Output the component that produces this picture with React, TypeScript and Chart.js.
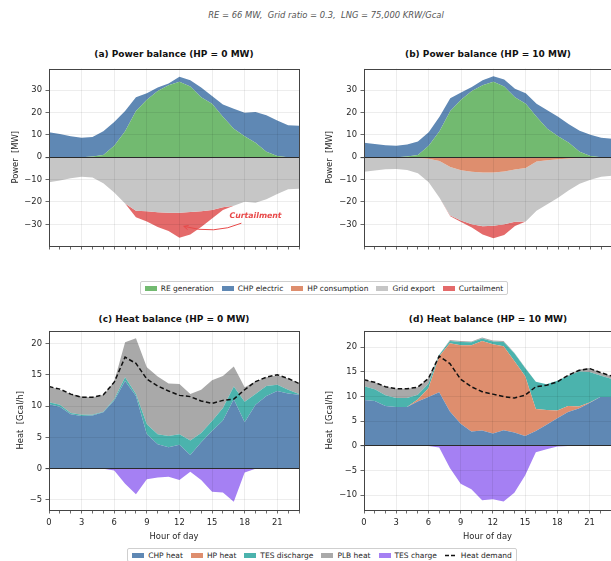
import React, { useEffect, useRef } from 'react';
import { Chart, registerables } from 'chart.js';

Chart.register(...registerables);

const FONT = 'DejaVu Sans';
const TXT = '#262626';
const GRID = 'rgba(0,0,0,0.09)';

// ---------- categories ----------
const HOURS = [0, 1, 2, 3, 4, 5, 6, 7, 8, 9, 10, 11, 12, 13, 14, 15, 16, 17, 18, 19, 20, 21, 22, 23];

// ---------- tick labels ----------
const POWER_TICKS = [-30, -20, -10, 0, 10, 20, 30];
const HEAT_C_TICKS = [-5, 0, 5, 10, 15, 20];
const HEAT_D_TICKS = [-10, -5, 0, 5, 10, 15, 20];

// ---------- (a) power balance, HP = 0 MW ----------
const RE_GEN = [0, 0, 0, 0, 0.3, 1.0, 5.1, 11.6, 20.7, 25.7, 29.7, 32.2, 33.8, 31.7, 26.8, 23.9, 18.1, 12.8, 9.4, 6.5, 2.5, 0.6, 0, 0];
const CHP_EL_A = [11.2, 10.4, 9.4, 8.7, 8.8, 10.6, 10.7, 9.1, 6.1, 3.0, 1.5, 0.8, 2.2, 2.8, 4.4, 3.5, 5.5, 8.9, 10.5, 13.8, 16.3, 15.8, 14.3, 14.1];
const HP_CONS_A = [0, 0, 0, 0, 0, 0, 0, 0, 0, 0, 0, 0, 0, 0, 0, 0, 0, 0, 0, 0, 0, 0, 0, 0];
const EXPORT_A = [-11.2, -10.4, -9.4, -8.7, -9.1, -11.6, -15.8, -20.7, -23.9, -24.2, -24.6, -24.8, -24.8, -24.5, -24.2, -23.6, -22.4, -21.7, -19.9, -20.3, -18.8, -16.4, -14.3, -14.1];
const CURT_A = [0, 0, 0, 0, 0, 0, 0, 0, -2.9, -4.5, -6.6, -8.2, -11.2, -10.0, -7.0, -3.8, -1.2, 0, 0, 0, 0, 0, 0, 0];

// ---------- (b) power balance, HP = 10 MW ----------
const CHP_EL_B = [6.5, 5.9, 5.4, 5.2, 5.4, 6.1, 6.1, 6.5, 5.7, 3.3, 1.7, 2.3, 2.4, 3.1, 3.9, 4.8, 5.8, 8.2, 8.7, 8.3, 9.4, 9.5, 8.7, 8.3];
const HP_CONS_B = [0, 0, 0, 0, 0, -0.3, -0.7, -1.7, -4.3, -5.8, -6.5, -6.8, -6.8, -6.4, -5.5, -4.8, -1.9, -1.3, -0.9, -0.6, -0.3, 0, 0, 0];
const EXPORT_B = [-6.5, -5.9, -5.4, -5.2, -5.7, -6.8, -10.5, -16.4, -21.8, -22.5, -23.5, -24.1, -23.8, -23.6, -23.3, -23.9, -22.0, -19.7, -17.2, -14.2, -11.6, -10.1, -8.7, -8.3];
const CURT_B = [0, 0, 0, 0, 0, 0, 0, 0, -0.3, -0.7, -1.4, -3.6, -5.6, -4.8, -1.9, 0, 0, 0, 0, 0, 0, 0, 0, 0];

// ---------- (c) heat balance, HP = 0 MW ----------
const CHP_HEAT_C = [10.3, 9.9, 8.7, 8.4, 8.5, 9.0, 10.9, 14.0, 11.6, 5.5, 3.9, 3.4, 3.8, 2.2, 4.2, 6.0, 7.7, 11.1, 7.4, 10.2, 11.6, 12.4, 12.0, 11.8];
const HP_HEAT_C = [0, 0, 0, 0, 0, 0, 0, 0, 0, 0, 0, 0, 0, 0, 0, 0, 0, 0, 0, 0, 0, 0, 0, 0];
const TES_DIS_C = [0.3, 0.3, 0.2, 0.2, 0.1, 0.1, 0.2, 0.6, 0.3, 1.6, 1.6, 1.8, 1.7, 2.3, 1.5, 1.6, 2.0, 2.0, 3.3, 1.7, 1.6, 1.0, 0.6, 0.1];
const PLB_C = [2.5, 2.4, 3.0, 2.9, 2.8, 2.7, 2.8, 5.6, 8.9, 9.1, 9.2, 8.4, 8.0, 7.4, 6.9, 6.5, 5.1, 3.2, 2.3, 2.0, 1.4, 1.5, 1.8, 1.7];
const TES_CHG_C = [0, 0, 0, 0, 0, 0, -0.3, -2.4, -4.1, -1.7, -1.4, -1.3, -1.8, -0.5, -1.8, -3.7, -3.8, -5.3, -0.6, 0, 0, 0, 0, 0];
const DEMAND_C = [13.1, 12.7, 11.9, 11.4, 11.4, 11.8, 13.8, 17.8, 16.8, 14.3, 13.2, 12.4, 11.7, 11.5, 10.8, 10.4, 10.9, 11.1, 12.6, 13.9, 14.6, 15.0, 14.4, 13.6];

// ---------- (d) heat balance, HP = 10 MW ----------
const CHP_HEAT_D = [9.3, 9.1, 8.1, 7.9, 7.9, 9.0, 9.9, 10.9, 7.0, 4.5, 2.9, 3.1, 2.5, 3.2, 2.7, 2.0, 3.0, 4.3, 5.6, 6.9, 7.6, 8.7, 9.9, 9.9];
const HP_HEAT_D = [0, 0, 0, 0, 0, 0.4, 1.8, 7.3, 13.8, 15.9, 17.5, 18.2, 18.1, 17.0, 14.5, 12.2, 4.5, 3.0, 1.6, 1.2, 0.4, 0.1, 0, 0];
const TES_DIS_D = [2.8, 2.4, 2.2, 1.8, 1.8, 1.0, 0.9, 0.3, 0.5, 0.7, 0.6, 0.5, 0.6, 0.9, 1.6, 1.6, 5.5, 5.2, 6.0, 6.1, 7.1, 6.2, 4.4, 3.7];
const PLB_D = [1.3, 1.4, 1.7, 1.9, 1.9, 1.5, 1.1, 0, 0.2, 0.2, 0.2, 0.2, 0.2, 0.2, 0.1, 0.1, 0, 0, 0, 0.1, 0.4, 0.8, 0.6, 0.6];
const TES_CHG_D = [0, 0, 0, 0, 0, 0, 0, -0.3, -4.5, -7.7, -8.8, -11.0, -10.8, -11.3, -9.5, -6.0, -1.3, -0.7, -0.1, 0, 0, 0, 0, 0];
const DEMAND_D = [13.4, 12.9, 12.0, 11.6, 11.6, 11.9, 13.7, 18.2, 16.7, 13.5, 12.0, 11.0, 10.5, 10.0, 9.7, 10.3, 12.0, 12.3, 13.0, 14.3, 15.3, 15.7, 14.9, 14.2];

// ---------- colours ----------
const C_RE = '#72ba70';
const C_CHP = '#5f88b4';
const C_HP = '#de8e6e';
const C_EXPORT = '#c6c6c6';
const C_CURT = '#e46a6a';
const C_TES_DIS = '#4bb3ad';
const C_PLB = '#a9a9a9';
const C_TES_CHG = '#a580f3';
const C_NOTE = '#e84a4a';

// annotation anchor (data coords)
const NOTE_TEXT = { x: 16.6, y: -26.1 };
const NOTE_FROM = { x: 17.7, y: -29.5 };
const NOTE_TO = { x: 12.4, y: -30.9 };

type Series = { label: string; data: number[]; color: string; stack: string; fill: any; dashed?: boolean };
type PanelSpec = {
  left: number; top: number; w: number; h: number;
  pad: { left: number; right: number; top: number; bottom: number };
  yw: number; xh: number; showX: boolean;
  ymin: number; ymax: number; yticks: number[]; ytitle: string; ytitlePad: number;
  series: Series[]; note?: boolean;
};

const tickFont = { family: FONT, size: 8.4 };

const fmt = (v: number) => (v < 0 ? '\u2212' + Math.abs(v) : String(v));

const framePlugin = {
  id: 'frame',
  afterDraw(chart: any) {
    const { ctx, chartArea: a } = chart;
    ctx.save();
    ctx.strokeStyle = '#444';
    ctx.lineWidth = 1;
    ctx.strokeRect(Math.round(a.left) + 0.5, Math.round(a.top) + 0.5, Math.round(a.right - a.left), Math.round(a.bottom - a.top));
    ctx.restore();
  },
};

const notePlugin = {
  id: 'curtailNote',
  afterDraw(chart: any, _args: any, opts: any) {
    if (!opts || !opts.show) return;
    const { ctx } = chart;
    const xs = chart.scales.x;
    const ys = chart.scales.y;
    const tx = xs.getPixelForValue(NOTE_TEXT.x);
    const ty = ys.getPixelForValue(NOTE_TEXT.y);
    const x0 = xs.getPixelForValue(NOTE_FROM.x);
    const y0 = ys.getPixelForValue(NOTE_FROM.y);
    const x1 = xs.getPixelForValue(NOTE_TO.x);
    const y1 = ys.getPixelForValue(NOTE_TO.y);
    ctx.save();
    ctx.fillStyle = C_NOTE;
    ctx.font = `italic bold 7.8px "${FONT}"`;
    ctx.textAlign = 'left';
    ctx.textBaseline = 'middle';
    ctx.fillText('Curtailment', tx, ty);
    const cx = (x0 + x1) / 2 + 2;
    const cy = (y0 + y1) / 2 + 10;
    ctx.strokeStyle = C_NOTE;
    ctx.lineWidth = 1;
    ctx.beginPath();
    ctx.moveTo(x0, y0);
    ctx.quadraticCurveTo(cx, cy, x1, y1);
    ctx.stroke();
    const ang = Math.atan2(y1 - cy, x1 - cx);
    const L = 5;
    ctx.beginPath();
    ctx.moveTo(x1 - L * Math.cos(ang - 0.45), y1 - L * Math.sin(ang - 0.45));
    ctx.lineTo(x1, y1);
    ctx.lineTo(x1 - L * Math.cos(ang + 0.45), y1 - L * Math.sin(ang + 0.45));
    ctx.stroke();
    ctx.restore();
  },
};

function makeConfig(spec: PanelSpec): any {
  return {
    type: 'line',
    data: {
      labels: HOURS,
      datasets: spec.series.map((s) => ({
        label: s.label,
        data: s.data,
        stack: s.stack,
        fill: s.fill,
        order: s.dashed ? -1 : 0,
        backgroundColor: s.color,
        borderColor: s.dashed ? '#111' : 'rgba(0,0,0,0)',
        borderWidth: s.dashed ? 1.5 : 1,
        borderDash: s.dashed ? [4.5, 2.5] : [],
        pointRadius: 0,
        pointHoverRadius: 0,
        tension: 0,
      })),
    },
    options: {
      responsive: false,
      animation: false,
      devicePixelRatio: 1,
      events: [],
      layout: { padding: spec.pad },
      plugins: {
        legend: { display: false },
        tooltip: { enabled: false },
        title: { display: false },
        curtailNote: { show: !!spec.note },
      },
      scales: {
        x: {
          type: 'linear',
          min: 0,
          max: 23,
          ticks: {
            stepSize: 1,
            autoSkip: false,
            maxRotation: 0,
            display: spec.showX,
            padding: 4,
            color: TXT,
            font: tickFont,
            callback: (v: any) => (Number(v) % 3 === 0 ? String(v) : ''),
          },
          grid: {
            z: 1,
            drawTicks: true,
            tickLength: 3.5,
            tickColor: '#444',
            lineWidth: 0.8,
            color: (c: any) => (c.tick && c.tick.value % 3 === 0 ? GRID : 'rgba(0,0,0,0)'),
          },
          border: { display: false },
          title: {
            display: spec.showX,
            text: 'Hour of day',
            color: TXT,
            font: tickFont,
            padding: { top: 0, bottom: 2 },
          },
          afterFit: (s: any) => {
            s.height = spec.xh;
          },
        },
        y: {
          type: 'linear',
          min: spec.ymin,
          max: spec.ymax,
          stacked: true,
          afterBuildTicks: (s: any) => {
            s.ticks = spec.yticks.map((v) => ({ value: v }));
          },
          ticks: {
            color: TXT,
            font: tickFont,
            padding: 3.5,
            callback: (v: any) => fmt(Number(v)),
          },
          grid: {
            z: 1,
            tickLength: 3.5,
            tickColor: '#444',
            color: (c: any) => (c.tick && c.tick.value === 0 ? '#2b2b2b' : GRID),
            lineWidth: (c: any) => (c.tick && c.tick.value === 0 ? 1.1 : 0.8),
          },
          border: { display: false },
          title: {
            display: true,
            text: spec.ytitle,
            color: TXT,
            font: tickFont,
            padding: { top: spec.ytitlePad, bottom: 0 },
          },
          afterFit: (s: any) => {
            s.width = spec.yw;
          },
        },
      },
    },
    plugins: [framePlugin, notePlugin],
  };
}

function Panel({ spec }: { spec: PanelSpec }) {
  const ref = useRef<HTMLCanvasElement>(null);
  useEffect(() => {
    const chart = new Chart(ref.current as HTMLCanvasElement, makeConfig(spec));
    return () => chart.destroy();
  }, []);
  return (
    <canvas
      ref={ref}
      width={spec.w}
      height={spec.h}
      style={{ position: 'absolute', left: spec.left, top: spec.top, width: spec.w, height: spec.h }}
    />
  );
}

const powerSeries = (chp: number[], hp: number[], exp: number[], curt: number[]): Series[] => [
  { label: 'RE generation', data: RE_GEN, color: C_RE, stack: 'pos', fill: 'origin' },
  { label: 'CHP electric', data: chp, color: C_CHP, stack: 'pos', fill: '-1' },
  { label: 'HP consumption', data: hp, color: C_HP, stack: 'neg', fill: 'origin' },
  { label: 'Grid export', data: exp, color: C_EXPORT, stack: 'neg', fill: '-1' },
  { label: 'Curtailment', data: curt, color: C_CURT, stack: 'neg', fill: '-1' },
];

const heatSeries = (chp: number[], hp: number[], dis: number[], plb: number[], chg: number[], dem: number[]): Series[] => [
  { label: 'CHP heat', data: chp, color: C_CHP, stack: 'pos', fill: 'origin' },
  { label: 'HP heat', data: hp, color: C_HP, stack: 'pos', fill: '-1' },
  { label: 'TES discharge', data: dis, color: C_TES_DIS, stack: 'pos', fill: '-1' },
  { label: 'PLB heat', data: plb, color: C_PLB, stack: 'pos', fill: '-1' },
  { label: 'TES charge', data: chg, color: C_TES_CHG, stack: 'neg', fill: 'origin' },
  { label: 'Heat demand', data: dem, color: '#111', stack: 'dem', fill: false, dashed: true },
];

const PANEL_A: PanelSpec = {
  left: 0, top: 60, w: 305, h: 196, pad: { left: 0, right: 6, top: 3, bottom: 0 },
  yw: 49, xh: 10, showX: false, ymin: -39.7, ymax: 39.7, yticks: POWER_TICKS,
  ytitle: 'Power  [MW]', ytitlePad: 11, series: powerSeries(CHP_EL_A, HP_CONS_A, EXPORT_A, CURT_A), note: true,
};
const PANEL_B: PanelSpec = {
  left: 305, top: 60, w: 310, h: 196, pad: { left: 0, right: 3, top: 3, bottom: 0 },
  yw: 59, xh: 10, showX: false, ymin: -39.7, ymax: 39.7, yticks: POWER_TICKS,
  ytitle: 'Power  [MW]', ytitlePad: 20, series: powerSeries(CHP_EL_B, HP_CONS_B, EXPORT_B, CURT_B),
};
const PANEL_C: PanelSpec = {
  left: 0, top: 322, w: 305, h: 222, pad: { left: 0, right: 6, top: 6, bottom: 0 },
  yw: 49, xh: 34, showX: true, ymin: -6.6, ymax: 22.05, yticks: HEAT_C_TICKS,
  ytitle: 'Heat  [Gcal/h]', ytitlePad: 15.5,
  series: heatSeries(CHP_HEAT_C, HP_HEAT_C, TES_DIS_C, PLB_C, TES_CHG_C, DEMAND_C),
};
const PANEL_D: PanelSpec = {
  left: 305, top: 322, w: 310, h: 222, pad: { left: 0, right: 3, top: 6, bottom: 0 },
  yw: 59, xh: 34, showX: true, ymin: -13.0, ymax: 23.4, yticks: HEAT_D_TICKS,
  ytitle: 'Heat  [Gcal/h]', ytitlePad: 20,
  series: heatSeries(CHP_HEAT_D, HP_HEAT_D, TES_DIS_D, PLB_D, TES_CHG_D, DEMAND_D),
};

const POWER_LEGEND = [
  { label: 'RE generation', color: C_RE },
  { label: 'CHP electric', color: C_CHP },
  { label: 'HP consumption', color: C_HP },
  { label: 'Grid export', color: C_EXPORT },
  { label: 'Curtailment', color: C_CURT },
];
const HEAT_LEGEND = [
  { label: 'CHP heat', color: C_CHP },
  { label: 'HP heat', color: C_HP },
  { label: 'TES discharge', color: C_TES_DIS },
  { label: 'PLB heat', color: C_PLB },
  { label: 'TES charge', color: C_TES_CHG },
  { label: 'Heat demand', color: '', line: true },
];

function Text({ cx, cy, children, size, bold, italic, color }: any) {
  return (
    <div
      style={{
        position: 'absolute', left: cx - 250, width: 500, top: cy - 8, height: 16, lineHeight: '16px',
        textAlign: 'center', fontFamily: FONT, fontSize: size, fontWeight: bold ? 'bold' : 'normal',
        fontStyle: italic ? 'italic' : 'normal', color, whiteSpace: 'pre',
      }}
    >
      {children}
    </div>
  );
}

function Legend({ cx, top, items }: { cx: number; top: number; items: any[] }) {
  return (
    <div style={{ position: 'absolute', left: cx - 300, width: 600, top, display: 'flex', justifyContent: 'center' }}>
      <div
        style={{
          display: 'flex', alignItems: 'center', gap: 8, padding: '0px 4px', height: 12,
          border: '1px solid #cfcfcf', borderRadius: 2, background: '#fff',
          fontFamily: FONT, fontSize: 7.5, color: TXT, whiteSpace: 'nowrap',
        }}
      >
        {items.map((it) => (
          <div key={it.label} style={{ display: 'flex', alignItems: 'center' }}>
            {it.line ? (
              <svg width={12} height={5} style={{ marginRight: 4 }}>
                <line x1={0} y1={2.5} x2={12} y2={2.5} stroke="#111" strokeWidth={1.5} strokeDasharray="4,2" />
              </svg>
            ) : (
              <span style={{ display: 'inline-block', width: 12, height: 5, background: it.color, marginRight: 4 }} />
            )}
            <span>{it.label}</span>
          </div>
        ))}
      </div>
    </div>
  );
}

export default function App() {
  return (
    <div style={{ position: 'absolute', left: 0, top: 0, width: 611, height: 561, overflow: 'hidden', background: '#fff' }}>
      <Text cx={326} cy={15} size={8.4} italic color="#555">
        {'RE = 66 MW,  Grid ratio = 0.3,  LNG = 75,000 KRW/Gcal'}
      </Text>
      <Text cx={174} cy={54} size={9} bold color="#111">(a) Power balance (HP = 0 MW)</Text>
      <Text cx={488} cy={54} size={9} bold color="#111">(b) Power balance (HP = 10 MW)</Text>
      <Text cx={174} cy={319} size={9} bold color="#111">(c) Heat balance (HP = 0 MW)</Text>
      <Text cx={488} cy={319} size={9} bold color="#111">(d) Heat balance (HP = 10 MW)</Text>
      <Panel spec={PANEL_A} />
      <Panel spec={PANEL_B} />
      <Panel spec={PANEL_C} />
      <Panel spec={PANEL_D} />
      <Legend cx={324} top={281} items={POWER_LEGEND} />
      <Legend cx={322} top={548} items={HEAT_LEGEND} />
    </div>
  );
}
